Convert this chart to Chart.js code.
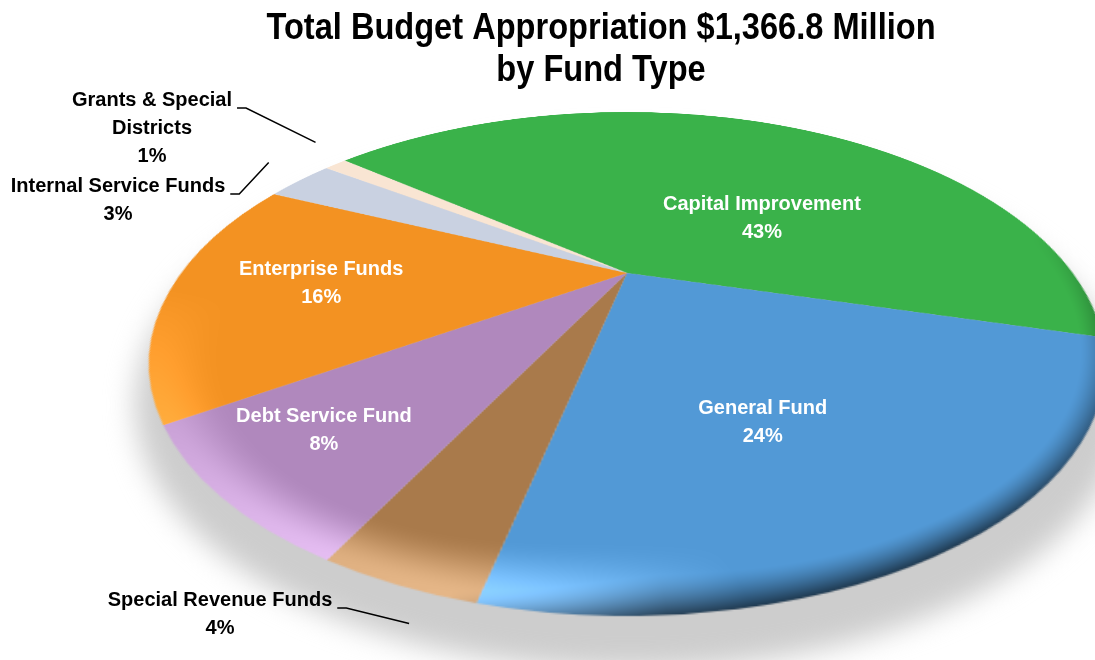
<!DOCTYPE html>
<html lang="en">
<head>
<meta charset="utf-8">
<title>Total Budget Appropriation by Fund Type</title>
<script src="https://cdn.jsdelivr.net/npm/chart.js@4.4.1/dist/chart.umd.min.js"></script>
<style>
  html, body { margin: 0; padding: 0; background: #ffffff; }
  #budget-pie { display: block; }
</style>
</head>
<body>
<canvas id="budget-pie" width="1095" height="660"></canvas>
<script>
// Fund types, clockwise from the top of the pie
const fundTypes = [
  'Capital Improvement',
  'General Fund',
  'Special Revenue Funds',
  'Debt Service Fund',
  'Enterprise Funds',
  'Internal Service Funds',
  'Grants & Special Districts',
];
const sharePct = [43, 24, 4, 8, 16, 3, 1];
const sliceColors = ['#3ab24a', '#5299d6', '#a97a4b', '#b088bd', '#f39222', '#c9d1e1', '#f9e5d3'];

const titleLines = ['Total Budget Appropriation $1,366.8 Million', 'by Fund Type'];

// Tilted disc: outline ellipse on screen and where the pie centre lands
const TILT = { cx: 627, cy: 364, rx: 478, ry: 252, apexY: 273 };
const SHADOW = { cx: 630, cy: 405, rx: 495, ry: 265, blur: 14, color: '#cdcdcd' };

// Label placement: position inside the slice (fraction of sweep, fraction of radius)
const labelLayout = [
  { inside: true, lines: ['Capital Improvement'], frac: 0.65, radius: 0.43 },
  { inside: true, lines: ['General Fund'], frac: 0.58, radius: 0.60 },
  { inside: false, lines: ['Special Revenue Funds'], at: [220, 600], frac: 0.3, radius: 1.06 },
  { inside: true, lines: ['Debt Service Fund'], frac: 0.56, radius: 0.785 },
  { inside: true, lines: ['Enterprise Funds'], frac: 0.51, radius: 0.676 },
  { inside: false, lines: ['Internal Service Funds'], at: [118, 186], frac: 0.7, radius: 1.16 },
  { inside: false, lines: ['Grants & Special', 'Districts'], at: [152, 100], frac: 1.4, radius: 1.17 },
];

const LABEL_FONT = "bold 20px 'Liberation Sans', Arial, sans-serif";
const TITLE_FONT = "bold 36px 'Liberation Sans', Arial, sans-serif";
const LINE_GAP = 28;

const tanhT = (TILT.apexY - TILT.cy) / TILT.ry;
const coshT = 1 / Math.sqrt(1 - tanhT * tanhT);
const sinhT = tanhT * coshT;

// unit-disc point -> screen point on the tilted disc
function projectPoint(u, v) {
  const den = v * sinhT + coshT;
  const X = u / den;
  const Y = (v * coshT + sinhT) / den;
  return [TILT.cx + X * TILT.rx, TILT.cy + Y * TILT.ry];
}

function clamp01(x) {
  return x < 0 ? 0 : x > 1 ? 1 : x;
}

function smoothstep(e0, e1, x) {
  const t = clamp01((x - e0) / (e1 - e0));
  return t * t * (3 - 2 * t);
}

function warpPie(src, out, w, h, scx, scy, R) {
  const s = src.data;
  const o = out.data;
  const x0 = Math.max(0, Math.floor(TILT.cx - TILT.rx - 2));
  const x1 = Math.min(w, Math.ceil(TILT.cx + TILT.rx + 2));
  const y0 = Math.max(0, Math.floor(TILT.cy - TILT.ry - 2));
  const y1 = Math.min(h, Math.ceil(TILT.cy + TILT.ry + 2));

  for (let py = y0; py < y1; py += 1) {
    const Y = (py + 0.5 - TILT.cy) / TILT.ry;
    const den = coshT - Y * sinhT;
    const v = (Y * coshT - sinhT) / den;
    const sy = scy + v * R - 0.5;
    const iy = Math.floor(sy);
    const fy = sy - iy;

    for (let px = x0; px < x1; px += 1) {
      const X = (px + 0.5 - TILT.cx) / TILT.rx;
      const rho2 = X * X + Y * Y;
      if (rho2 > 1.03) continue;

      const sx = scx + (X / den) * R - 0.5;
      const ix = Math.floor(sx);
      const fx = sx - ix;

      let r = 0, g = 0, b = 0, a = 0;
      for (let k = 0; k < 4; k += 1) {
        const cx = ix + (k & 1);
        const cy = iy + (k >> 1);
        if (cx < 0 || cy < 0 || cx >= w || cy >= h) continue;
        const wgt = ((k & 1) ? fx : 1 - fx) * ((k >> 1) ? fy : 1 - fy);
        const idx = (cy * w + cx) * 4;
        const al = s[idx + 3] * wgt;
        r += s[idx] * al;
        g += s[idx + 1] * al;
        b += s[idx + 2] * al;
        a += al;
      }
      if (a <= 0) continue;
      r /= a; g /= a; b /= a;

      // bevel: highlight along lower-left rim, shade along lower-right rim
      const rho = Math.sqrt(rho2);
      const theta = Math.atan2(Y * TILT.ry, X * TILT.rx);
      const localR = (TILT.rx * TILT.ry) / Math.hypot(TILT.ry * Math.cos(theta), TILT.rx * Math.sin(theta));
      const dpx = Math.max(0, (1 - rho) * localR);

      if (dpx < 90) {
        const D = clamp01((Math.cos(theta - 0.96) - 0.3) / 0.6);
        const W = 12 + 30 * D;
        const dark = dpx < W ? 0.64 * D * Math.pow(1 - dpx / W, 1.4) : 0;
        const L = clamp01((Math.cos(theta - 2.2) - 0.45) / 0.55);
        const light = 60 * L * (1 - smoothstep(4, 75, dpx));
        r = (r + light) * (1 - dark);
        g = (g + light) * (1 - dark);
        b = (b + light) * (1 - dark);
      }

      const q = (py * w + px) * 4;
      o[q] = Math.min(255, r);
      o[q + 1] = Math.min(255, g);
      o[q + 2] = Math.min(255, b);
      o[q + 3] = a;
    }
  }
}

function drawLines(ctx, lines, x, y) {
  lines.forEach((line, i) => {
    ctx.fillText(line, x, y + i * LINE_GAP);
  });
}

function drawLabels(ctx, arcs) {
  ctx.save();
  ctx.font = LABEL_FONT;
  ctx.textAlign = 'center';
  ctx.textBaseline = 'middle';

  arcs.forEach((arc, i) => {
    const spot = labelLayout[i];
    const lines = [...spot.lines, `${sharePct[i]}%`];
    const angle = arc.startAngle + (arc.endAngle - arc.startAngle) * spot.frac;
    const [px, py] = projectPoint(Math.cos(angle) * spot.radius, Math.sin(angle) * spot.radius);

    if (spot.inside) {
      ctx.fillStyle = '#ffffff';
      drawLines(ctx, lines, px, py - ((lines.length - 1) * LINE_GAP) / 2);
      return;
    }

    const [tx, ty] = spot.at;
    ctx.fillStyle = '#000000';
    drawLines(ctx, lines, tx, ty);

    const right = tx + ctx.measureText(lines[0]).width / 2;
    ctx.strokeStyle = '#000000';
    ctx.lineWidth = 1.5;
    ctx.beginPath();
    ctx.moveTo(right + 5, ty + 8);
    ctx.lineTo(right + 14, ty + 8);
    ctx.lineTo(px, py);
    ctx.stroke();
  });

  ctx.restore();
}

function drawTitle(ctx) {
  ctx.save();
  ctx.font = TITLE_FONT;
  ctx.fillStyle = '#000000';
  ctx.textAlign = 'center';
  ctx.textBaseline = 'alphabetic';
  ctx.translate(601, 0);
  ctx.scale(0.905, 1);
  ctx.fillText(titleLines[0], 0, 39);
  ctx.fillText(titleLines[1], 0, 81);
  ctx.restore();
}

// Redraws the flat pie as a tilted, bevelled disc with a drop shadow
const tiltPlugin = {
  id: 'tiltPie',
  afterDraw(chart) {
    const { ctx, width, height } = chart;
    const arcs = chart.getDatasetMeta(0).data;
    const { x: scx, y: scy, outerRadius } = arcs[0];

    const src = ctx.getImageData(0, 0, width, height);
    const out = ctx.createImageData(width, height);
    warpPie(src, out, width, height, scx, scy, outerRadius);

    const layer = document.createElement('canvas');
    layer.width = width;
    layer.height = height;
    layer.getContext('2d').putImageData(out, 0, 0);

    ctx.save();
    ctx.setTransform(1, 0, 0, 1, 0, 0);
    ctx.clearRect(0, 0, width, height);
    ctx.fillStyle = '#ffffff';
    ctx.fillRect(0, 0, width, height);

    ctx.filter = `blur(${SHADOW.blur}px)`;
    ctx.fillStyle = SHADOW.color;
    ctx.beginPath();
    ctx.ellipse(SHADOW.cx, SHADOW.cy, SHADOW.rx, SHADOW.ry, 0, 0, Math.PI * 2);
    ctx.fill();
    ctx.filter = 'none';

    ctx.drawImage(layer, 0, 0);
    ctx.restore();

    drawLabels(ctx, arcs);
    drawTitle(ctx);
  },
};

new Chart(document.getElementById('budget-pie'), {
  type: 'pie',
  data: {
    labels: fundTypes,
    datasets: [
      {
        data: sharePct,
        backgroundColor: sliceColors,
        borderWidth: 0,
      },
    ],
  },
  options: {
    responsive: false,
    animation: false,
    events: [],
    devicePixelRatio: 1,
    rotation: -51,
    layout: { padding: 0 },
    plugins: {
      legend: { display: false },
      tooltip: { enabled: false },
      title: { display: false },
    },
  },
  plugins: [tiltPlugin],
});
</script>
</body>
</html>
